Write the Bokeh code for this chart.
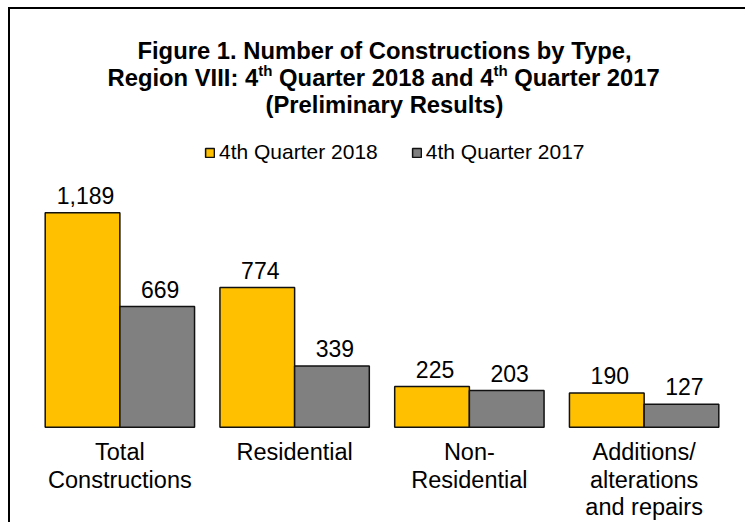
from bokeh.plotting import figure
from bokeh.models import FactorRange, Range1d, ColumnDataSource, Label
from bokeh.transform import dodge
from bokeh.core.properties import value
from bokeh.embed import file_html
from bokeh.resources import INLINE

# ---- data ----
categories = ["Total Constructions", "Residential", "Non-Residential",
              "Additions/alterations and repairs"]
category_labels = ["Total\nConstructions", "Residential", "Non-\nResidential",
                   "Additions/\nalterations\nand repairs"]
series = ["4th Quarter 2018", "4th Quarter 2017"]
q4_2018 = [1189, 774, 225, 190]
q4_2017 = [669, 339, 203, 127]

# ---- layout constants ----
W, H = 745, 522
UNIT_PX = 74.68             # pixels per bar
GROUP_PAD = 0.34
TOTAL = 2 * len(categories) + (len(categories) - 1) * GROUP_PAD
RANGE_PAD = (W / UNIT_PX - TOTAL) / 2      # applied on each side (synthetic units)
SHIFT = 9.0 / UNIT_PX       # plot area sits a little right of the canvas centre
Y_START, Y_END = -528.3, 2365.3
FONT = "Liberation Sans"
YELLOW = "#FFC000"
GRAY = "#808080"


def xd(px):
    return -RANGE_PAD + px * (TOTAL + 2 * RANGE_PAD) / W


def yd(py):
    return Y_END - py * (Y_END - Y_START) / H


factors = [(c, s) for c in categories for s in series]
x_range = FactorRange(factors=factors, factor_padding=0, group_padding=GROUP_PAD,
                      range_padding=RANGE_PAD, range_padding_units="absolute")

p = figure(width=W, height=H, x_range=x_range, y_range=Range1d(Y_START, Y_END),
           x_axis_location=None, y_axis_location=None, toolbar_location=None,
           output_backend="svg", title=None,
           min_border_left=0, min_border_right=0,
           min_border_top=0, min_border_bottom=0)
p.grid.visible = False
p.outline_line_color = None
p.background_fill_color = "white"
p.border_fill_color = "white"

# chart border (left and top edges visible; right/bottom lie beyond the canvas)
p.line(x=[xd(8.5), xd(8.5), xd(800)], y=[yd(600), yd(7.5), yd(7.5)],
       line_color="#000000", line_width=2, line_join="miter")

# bars
for s, vals, col in [(series[0], q4_2018, YELLOW), (series[1], q4_2017, GRAY)]:
    src = ColumnDataSource(dict(x=[(c, s) for c in categories], top=vals))
    p.vbar(x=dodge("x", SHIFT, range=x_range), top="top", width=1.0, source=src,
           fill_color=col, line_color="#111111", line_width=1.5, legend_label=s)

# value labels
vals_all = []
for a, b in zip(q4_2018, q4_2017):
    vals_all += [a, b]
lab_src = ColumnDataSource(dict(x=factors, y=vals_all, text=[f"{v:,}" for v in vals_all]))
p.text(x=dodge("x", SHIFT, range=x_range), y="y", text="text", source=lab_src,
       text_align="center", text_baseline="alphabetic", y_offset=-17.5, x_offset=3,
       text_font=value(FONT), text_font_size="23px", text_color="#000000")

# category labels
cat_src = ColumnDataSource(dict(x=categories, y=[0] * len(categories), text=category_labels))
p.text(x=dodge("x", SHIFT, range=x_range), y="y", text="text", source=cat_src,
       text_align="center", text_baseline="top", y_offset=12.3, text_line_height=1.05,
       text_font=value(FONT), text_font_size="23.5px", text_color="#000000")

# legend
lg = p.legend[0]
lg.orientation = "horizontal"
lg.location = (204, 358)
lg.glyph_width = 11
lg.glyph_height = 11
lg.label_standoff = 4
lg.spacing = 33
lg.padding = 0
lg.margin = 0
lg.border_line_color = None
lg.background_fill_alpha = 0
lg.label_text_font = FONT
lg.label_text_font_size = "21px"
lg.label_text_color = "#000000"

# title
TF = "23.8px"
SF = "15px"


def tlabel(px, py, text, size=TF, align="left"):
    p.add_layout(Label(x=xd(px), y=yd(py), text=text, text_align=align,
                       text_baseline="alphabetic", text_font=FONT,
                       text_font_style="bold", text_font_size=size,
                       text_color="#000000"))


tlabel(384, 50, "Figure 1. Number of Constructions by Type,", align="center")
tlabel(107, 77, "Region VIII: 4")
tlabel(257.8, 70, "th", size=SF)
tlabel(278.6, 77, "Quarter 2018 and 4")
tlabel(492.9, 70, "th", size=SF)
tlabel(513.7, 77, "Quarter 2017")
tlabel(384, 104, "(Preliminary Results)", align="center")

open("out.html", "w").write(file_html(p, INLINE))
